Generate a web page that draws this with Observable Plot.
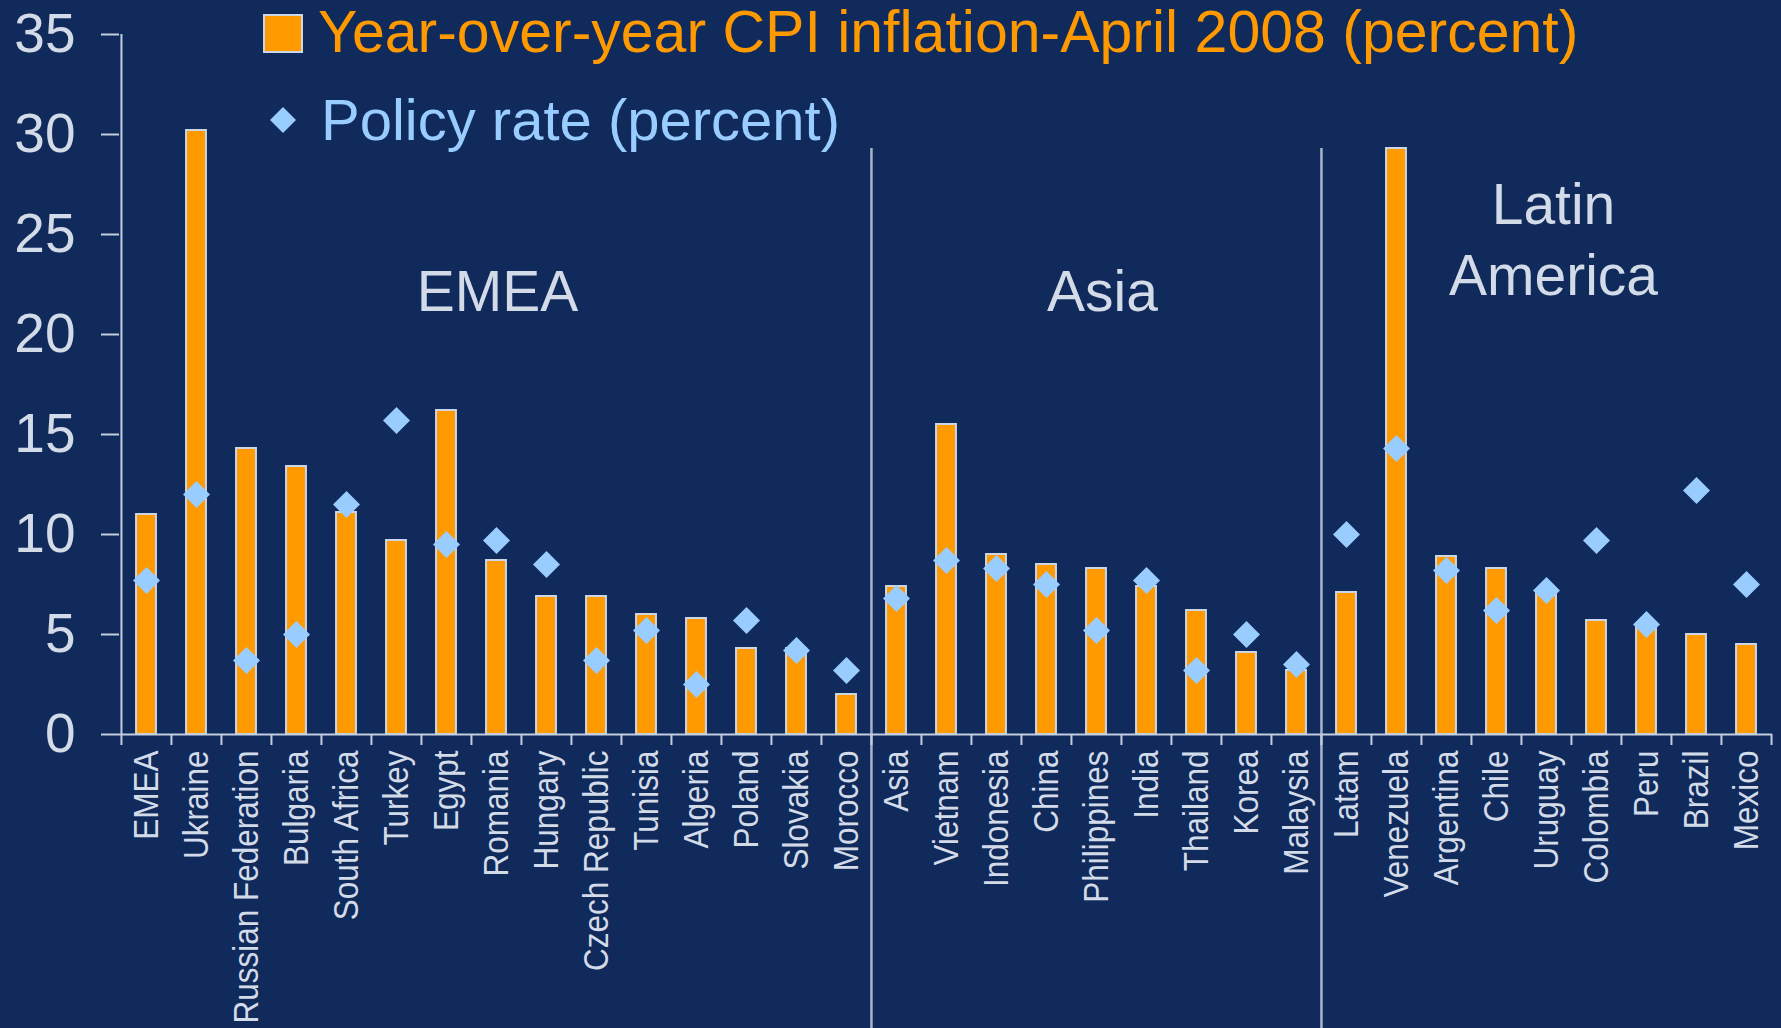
<!DOCTYPE html>
<html>
<head>
<meta charset="utf-8">
<script src="https://cdn.jsdelivr.net/npm/d3@7"></script>
<script src="https://cdn.jsdelivr.net/npm/@observablehq/plot@0.6"></script>
<style>
  html, body { margin: 0; padding: 0; background: #102a5c; }
  #wrap { position: relative; width: 1781px; height: 1028px; overflow: hidden; }
  #legend { position: absolute; left: 0; top: 0; pointer-events: none; }
</style>
</head>
<body>
<div id="wrap"></div>
<script>
// ---- data ----
const regionNames = ["EMEA", "Asia", "Latin\nAmerica"];
const emeaCountries = ["EMEA", "Ukraine", "Russian Federation", "Bulgaria", "South Africa", "Turkey", "Egypt", "Romania", "Hungary", "Czech Republic", "Tunisia", "Algeria", "Poland", "Slovakia", "Morocco"];
const asiaCountries = ["Asia", "Vietnam", "Indonesia", "China", "Philippines", "India", "Thailand", "Korea", "Malaysia"];
const latamCountries = ["Latam", "Venezuela", "Argentina", "Chile", "Uruguay", "Colombia", "Peru", "Brazil", "Mexico"];
const emeaInflation = [11.0, 30.2, 14.3, 13.4, 11.1, 9.7, 16.2, 8.7, 6.9, 6.9, 6.0, 5.8, 4.3, 4.3, 2.0];
const emeaPolicy = [7.7, 12.0, 3.7, 5.0, 11.5, 15.7, 9.5, 9.7, 8.5, 3.7, 5.2, 2.5, 5.7, 4.2, 3.2];
const asiaInflation = [7.4, 15.5, 9.0, 8.5, 8.3, 7.4, 6.2, 4.1, 3.2];
const asiaPolicy = [6.8, 8.7, 8.3, 7.5, 5.2, 7.7, 3.2, 5.0, 3.5];
const latamInflation = [7.1, 29.3, 8.9, 8.3, 7.1, 5.7, 5.4, 5.0, 4.5];
const latamPolicy = [10.0, 14.3, 8.2, 6.2, 7.2, 9.7, 5.5, 12.2, 7.5];
const yTicks = [0, 5, 10, 15, 20, 25, 30, 35];
const legendLabels = ["Year-over-year CPI inflation-April 2008 (percent)", "Policy rate (percent)"];

// ---- build table ----
const groups = [
  [emeaCountries, emeaInflation, emeaPolicy],
  [asiaCountries, asiaInflation, asiaPolicy],
  [latamCountries, latamInflation, latamPolicy]
];
const data = [];
groups.forEach(([c, inf, pol], g) => c.forEach((name, i) => data.push({country: name, inflation: inf[i], policy: pol[i], region: regionNames[g]})));
const countries = data.map(d => d.country);
const regionStarts = groups.slice(1).map(g => g[0][0]);
const regionMids = groups.map((g, k) => ({label: regionNames[k], x: g[0][Math.floor(g[0].length / 2)]}));

// ---- dimensions ----
const W = 1781, H = 1028, mL = 119, mR = 9, mT = 34, mB = 294;
const step = (W - mL - mR) / countries.length;
const barW = 20;
const light = "#d3dbe8";
const lineCol = "#c4cddd";

const diamond = {
  draw(ctx, size) {
    const r = Math.sqrt(size / Math.PI);
    ctx.moveTo(0, -r); ctx.lineTo(r, 0); ctx.lineTo(0, r); ctx.lineTo(-r, 0); ctx.closePath();
  }
};

const chart = Plot.plot({
  width: W, height: H,
  marginLeft: mL, marginRight: mR, marginTop: mT, marginBottom: mB,
  style: {background: "#102a5c", color: light, fontFamily: "'Liberation Sans', Arial, sans-serif"},
  x: {type: "band", domain: countries, padding: 0, label: null},
  y: {domain: [0, 35], label: null},
  marks: [
    Plot.axisY({ticks: yTicks, tickSize: 18, tickPadding: 26, fontSize: 55, stroke: lineCol, strokeWidth: 2, fill: light}),
    Plot.axisX({tickSize: 0, tickPadding: 16, tickRotate: -90, fontSize: 35, fill: light}),
    // separators between regions
    Plot.ruleX(regionStarts, {x: d => d, dx: -step / 2, insetTop: 114, insetBottom: -mB, stroke: "#a9b5ca", strokeWidth: 2.5}),
    // y axis line
    Plot.ruleX([countries[0]], {x: d => d, dx: -step / 2, stroke: lineCol, strokeWidth: 2}),
    // x axis boundary ticks
    Plot.ruleX(countries, {x: d => d, dx: -step / 2, y1: 0, y2: 0, insetBottom: -11, stroke: lineCol, strokeWidth: 2}),
    Plot.ruleX([countries[countries.length - 1]], {x: d => d, dx: step / 2, y1: 0, y2: 0, insetBottom: -11, stroke: lineCol, strokeWidth: 2}),
    Plot.barY(data, {x: "country", y: "inflation", fill: "#ff9900", stroke: "#cdd6e4", strokeWidth: 2,
      insetLeft: (step - barW) / 2, insetRight: (step - barW) / 2}),
    Plot.ruleY([0], {stroke: lineCol, strokeWidth: 2}),
    Plot.dot(data, {x: "country", y: "policy", symbol: diamond, r: 13.5, fill: "#99ccff"}),
    Plot.text([regionMids[0]], {x: "x", text: "label", frameAnchor: "top", dy: 276, dx: 1, lineAnchor: "bottom", fontSize: 57, fill: light}),
    Plot.text([regionMids[1]], {x: "x", text: "label", frameAnchor: "top", dy: 276, dx: 6, lineAnchor: "bottom", fontSize: 57, fill: light}),
    Plot.text([regionMids[2]], {x: "x", text: "label", frameAnchor: "top", dy: 260, dx: 7, lineAnchor: "bottom", lineHeight: 1.24, fontSize: 57, fill: light})
  ]
});

// slight horizontal condensing of rotated country labels
d3.select(chart).selectAll('g[aria-label="x-axis tick label"] text').each(function () {
  const t = this.getAttribute("transform") || "";
  this.setAttribute("transform", t + " scale(0.9,1)");
});

const wrap = document.getElementById("wrap");
wrap.appendChild(chart);

// ---- legend overlay ----
const leg = d3.create("svg").attr("id", "legend").attr("width", W).attr("height", 170)
  .style("font-family", "'Liberation Sans', Arial, sans-serif");
leg.append("rect").attr("x", 264).attr("y", 15).attr("width", 38).attr("height", 37)
  .attr("fill", "#ff9900").attr("stroke", "#cdd6e4").attr("stroke-width", 2);
leg.append("text").attr("x", 318).attr("y", 52).attr("font-size", 59).attr("fill", "#ff9900").text(legendLabels[0]);
leg.append("path").attr("d", d3.symbol(diamond, Math.PI * 13 * 13)()).attr("transform", "translate(283,120)").attr("fill", "#99ccff");
leg.append("text").attr("x", 321).attr("y", 140).attr("font-size", 58).attr("fill", "#99ccff").text(legendLabels[1]);
wrap.appendChild(leg.node());
</script>
</body>
</html>
